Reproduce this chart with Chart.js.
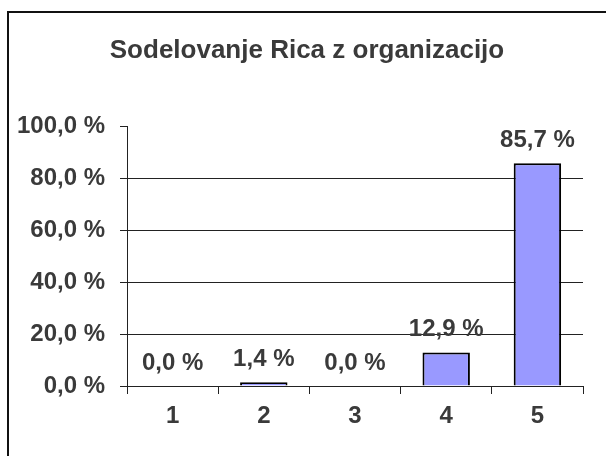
<!DOCTYPE html>
<html>
<head>
<meta charset="utf-8">
<script src="https://cdn.jsdelivr.net/npm/chart.js@4/dist/chart.umd.min.js"></script>
<style>
    html, body { margin: 0; padding: 0; background: #fff; }
    #wrap { width: 606px; height: 456px; }
</style>
</head>
<body>
<div id="wrap"><canvas id="ricaChart" width="606" height="456"></canvas></div>
<script>
const chartTitle = 'Sodelovanje Rica z organizacijo';
const categories = ['1', '2', '3', '4', '5'];
const shares = [0.0, 1.4, 0.0, 12.9, 85.7];
const yTicks = [0, 20, 40, 60, 80, 100];

const textColor = '#3a3a3a';
const lineColor = '#222';
const fontFamily = 'Arial, "Liberation Sans", sans-serif';

function pct(v) {
    return v.toFixed(1).replace('.', ',') + ' %';
}

// outer frame + title (title is a bit right of the plot centre in the original)
const framePlugin = {
    id: 'frame',
    afterDraw(chart) {
        const ctx = chart.ctx;
        ctx.save();
        ctx.strokeStyle = '#111';
        ctx.lineWidth = 2;
        ctx.strokeRect(8, 12, 700, 600);

        ctx.font = 'bold 26px ' + fontFamily;
        ctx.fillStyle = textColor;
        ctx.textAlign = 'center';
        ctx.textBaseline = 'middle';
        ctx.fillText(chartTitle, 307, 51);
        ctx.restore();
    }
};

// value labels above each bar
const valueLabels = {
    id: 'valueLabels',
    afterDatasetsDraw(chart) {
        const ctx = chart.ctx;
        const meta = chart.getDatasetMeta(0);
        ctx.save();
        ctx.font = 'bold 24px ' + fontFamily;
        ctx.fillStyle = textColor;
        ctx.textAlign = 'center';
        ctx.textBaseline = 'alphabetic';
        meta.data.forEach((bar, i) => {
            ctx.fillText(pct(shares[i]), bar.x, bar.y - 16);
        });
        ctx.restore();
    }
};

new Chart(document.getElementById('ricaChart').getContext('2d'), {
    type: 'bar',
    data: {
        labels: categories,
        datasets: [{
            data: shares,
            backgroundColor: '#9999ff',
            borderColor: '#000',
            borderWidth: 2,
            barPercentage: 0.52,
            categoryPercentage: 1
        }]
    },
    options: {
        responsive: false,
        animation: false,
        layout: { padding: { left: 0, right: 23, top: 126, bottom: 0 } },
        plugins: {
            legend: { display: false },
            tooltip: { enabled: false },
            title: { display: false }
        },
        scales: {
            x: {
                offset: true,
                grid: {
                    offset: true,
                    drawOnChartArea: false,
                    drawTicks: true,
                    tickLength: 8,
                    color: lineColor
                },
                border: { display: true, color: lineColor, width: 1 },
                ticks: {
                    color: textColor,
                    padding: 8,
                    font: { family: fontFamily, size: 24, weight: 'bold' }
                },
                afterFit(scale) { scale.height = 70; }
            },
            y: {
                min: 0,
                max: 100,
                afterBuildTicks(scale) {
                    scale.ticks = yTicks.map(v => ({ value: v }));
                },
                grid: {
                    color: ctx => (ctx.tick && ctx.tick.value === 100) ? 'rgba(0,0,0,0)' : lineColor,
                    tickColor: lineColor,
                    tickLength: 7,
                    lineWidth: 1
                },
                border: { display: true, color: lineColor, width: 1 },
                ticks: {
                    color: textColor,
                    padding: 15,
                    font: { family: fontFamily, size: 24, weight: 'bold' },
                    callback: v => pct(v)
                },
                afterFit(scale) { scale.width = 127; }
            }
        }
    },
    plugins: [framePlugin, valueLabels]
});
</script>
</body>
</html>
